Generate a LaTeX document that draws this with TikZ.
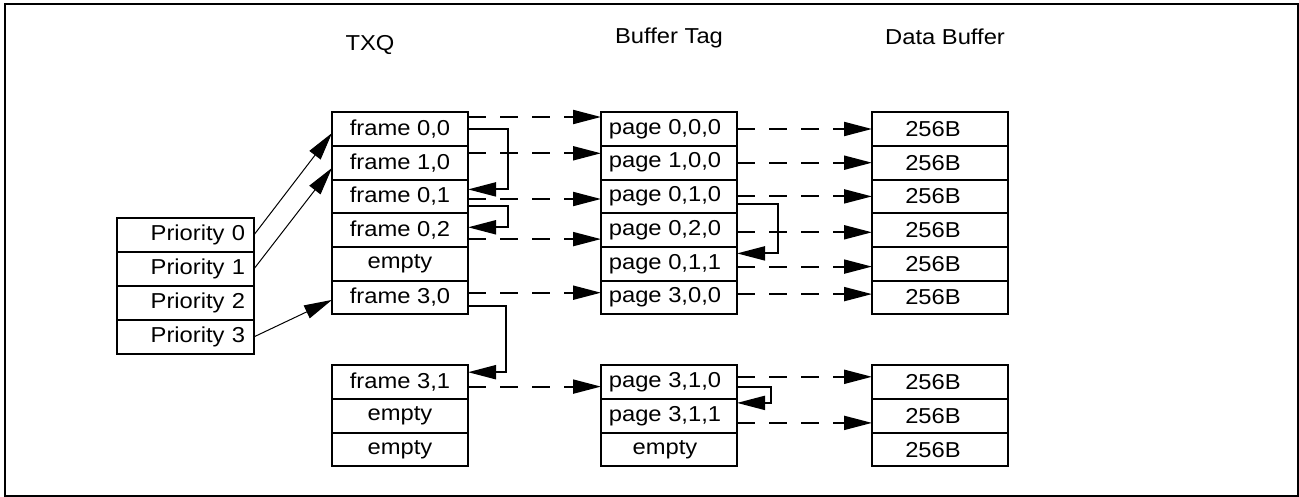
\documentclass[tikz,border=0pt]{standalone}
\usepackage{fontspec}
\setmainfont[FakeStretch=1.1]{Liberation Sans}
\usetikzlibrary{positioning, arrows.meta}

\tikzset{
  cell/.style={draw, line width=1pt, minimum width=68pt, minimum height=16.85pt, inner sep=0pt, outer sep=0pt},
  tag/.style={cell, execute at end node={\hspace*{4pt}}},
  data/.style={cell, execute at end node={\hspace*{7pt}}},
  prio/.style={draw, line width=1pt, text width=59.5pt, align=right, inner xsep=4.5pt, inner ysep=0pt, minimum height=17pt, outer sep=0pt},
  head/.style={inner sep=0pt},
  ptr/.style={-{Triangle[length=14pt,width=7pt]}, line width=0.5pt},
  link/.style={-{Triangle[length=14pt,width=7pt]}, line width=1pt},
  next/.style={-{Triangle[length=14pt,width=7pt]}, line width=1pt, dash pattern=on 9pt off 7pt}
}

\begin{document}
\begin{tikzpicture}[x=0.5pt, y=-0.5pt, font=\fontsize{10.8pt}{13pt}\selectfont]
        \useasboundingbox (0,0) rectangle (1299,497);
        \draw[line width=1pt] (4.5,4.5) rectangle (1297.5,495.5);

        \node[head](htxq) at (370,45) {TXQ};
        \node[head](htag) at (669,38) {Buffer Tag};
        \node[head](hbuf) at (945,37) {Data Buffer};

        % TXQ
        \node[cell](f00) at (400,129) {frame 0,0};
        \node[cell](f10)[below = 0pt of f00]{frame 1,0};
        \node[cell](f01)[below = 0pt of f10]{frame 0,1};
        \node[cell](f02)[below = 0pt of f01]{frame 0,2};
        \node[cell](fe0)[below = 0pt of f02]{empty};
        \node[cell](f30)[below = 0pt of fe0]{frame 3,0};
        \node[cell](f31)[below = 25.5pt of f30]{frame 3,1};
        \node[cell](fe1)[below = 0pt of f31]{empty};
        \node[cell](fe2)[below = 0pt of fe1]{empty};

        % priorities
        \node[prio](p0)[below left = 36pt and 39pt of f00]{Priority 0};
        \node[prio](p1)[below = 0pt of p0]{Priority 1};
        \node[prio](p2)[below = 0pt of p1]{Priority 2};
        \node[prio](p3)[below = 0pt of p2]{Priority 3};

        % buffer tags
        \node[tag](t000)[right = 66.5pt of f00]{page 0,0,0};
        \node[tag](t100)[below = 0pt of t000]{page 1,0,0};
        \node[tag](t010)[below = 0pt of t100]{page 0,1,0};
        \node[tag](t020)[below = 0pt of t010]{page 0,2,0};
        \node[tag](t011)[below = 0pt of t020]{page 0,1,1};
        \node[tag](t300)[below = 0pt of t011]{page 3,0,0};
        \node[tag](t310)[right = 66.5pt of f31]{page 3,1,0};
        \node[tag](t311)[below = 0pt of t310]{page 3,1,1};
        \node[tag](te0)[below = 0pt of t311]{empty};

        % data buffers
        \node[data](d0)[right = 67.5pt of t000]{256B};
        \node[data](d1)[below = 0pt of d0]{256B};
        \node[data](d2)[below = 0pt of d1]{256B};
        \node[data](d3)[below = 0pt of d2]{256B};
        \node[data](d4)[below = 0pt of d3]{256B};
        \node[data](d5)[below = 0pt of d4]{256B};
        \node[data](d6)[right = 67.5pt of t310]{256B};
        \node[data](d7)[below = 0pt of d6]{256B};
        \node[data](d8)[below = 0pt of d7]{256B};

        \path[ptr]
        (p0.east) edge ([yshift=-2pt]f00.west)
        (p1.east) edge ([yshift=-2.6pt]f10.west)
        (p3.east) edge ([yshift=-1.2pt]f30.west);

        \path[next]
        ([yshift=6pt]f00.east) edge ([yshift=6pt]t000.west)
        ([yshift=4.7pt]f10.east) edge ([yshift=4.7pt]t100.west)
        ([yshift=-1.3pt]f01.east) edge ([yshift=-1.3pt]t010.west)
        ([yshift=-4.5pt]f02.east) edge ([yshift=-4.5pt]t020.west)
        ([yshift=2.4pt]f30.east) edge ([yshift=2.4pt]t300.west)
        ([yshift=-2.2pt]f31.east) edge ([yshift=-2.2pt]t310.west);

        \path[next]
        (t000.east) edge (d0.west)
        (t100.east) edge (d1.west)
        (t010.east) edge (d2.west)
        ([yshift=-1.1pt]t020.east) edge ([yshift=-1.1pt]d3.west)
        ([yshift=-1.4pt]t011.east) edge ([yshift=-1.4pt]d4.west)
        ([yshift=1.7pt]t300.east) edge ([yshift=1.7pt]d5.west)
        ([yshift=2.7pt]t310.east) edge ([yshift=2.7pt]d6.west)
        ([yshift=-3.5pt]t311.east) edge ([yshift=-3.5pt]d7.west);

        \draw[link] (f00.east) -- ++(20pt,0) |- ([yshift=3.5pt]f01.east);
        \draw[link] ([yshift=-4.8pt]f01.east) -- ++(20pt,0) |- ([yshift=1.4pt]f02.east);
        \draw[link] ([yshift=-4.2pt]f30.east) -- ++(19pt,0) |- ([yshift=5pt]f31.east);
        \draw[link] ([yshift=-3.8pt]t010.east) -- ++(20.5pt,0) |- ([yshift=5.2pt]t011.east);
        \draw[link] ([yshift=-2.2pt]t310.east) -- ++(17pt,0) |- ([yshift=6.5pt]t311.east);
\end{tikzpicture}
\end{document}
